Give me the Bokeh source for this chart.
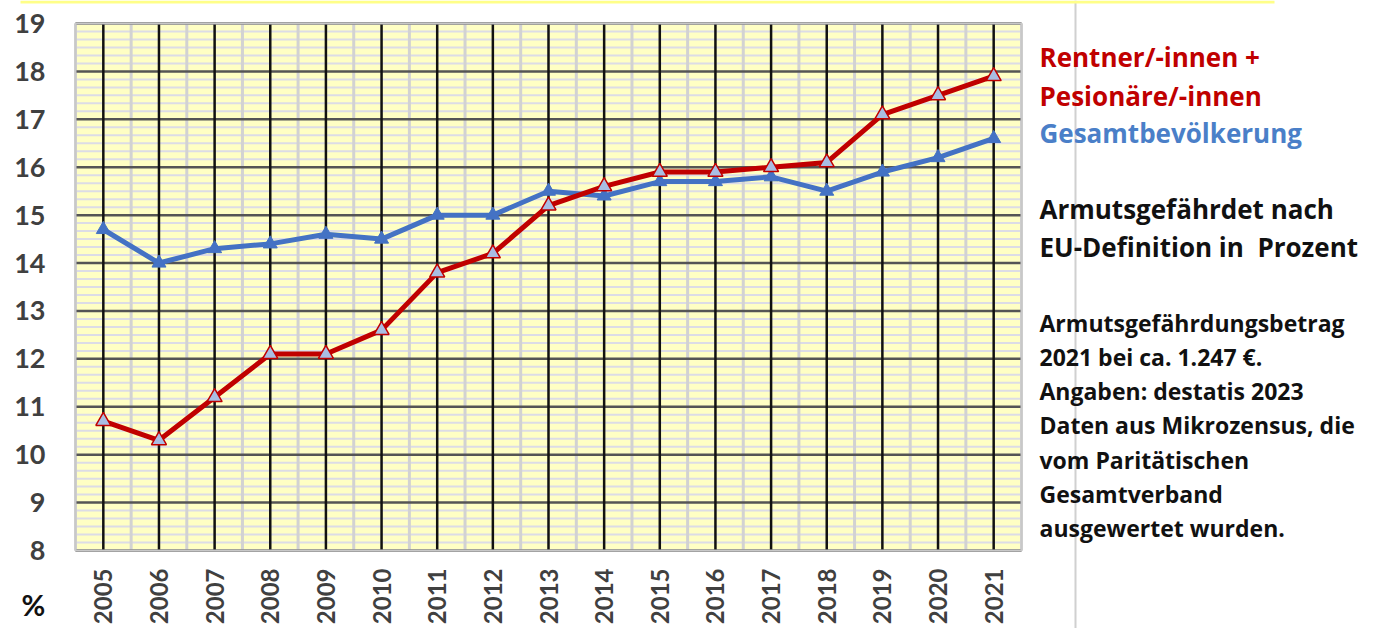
import math
from bokeh.plotting import figure
from bokeh.models import Range1d
from bokeh.core.properties import value
from bokeh.embed import file_html
from bokeh.resources import INLINE

years = ["2005", "2006", "2007", "2008", "2009", "2010", "2011", "2012", "2013",
         "2014", "2015", "2016", "2017", "2018", "2019", "2020", "2021"]
rentner = [10.7, 10.3, 11.2, 12.1, 12.1, 12.6, 13.8, 14.2, 15.2,
           15.6, 15.9, 15.9, 16.0, 16.1, 17.1, 17.5, 17.9]
gesamt = [14.7, 14.0, 14.3, 14.4, 14.6, 14.5, 15.0, 15.0, 15.5,
          15.4, 15.7, 15.7, 15.8, 15.5, 15.9, 16.2, 16.6]
y_ticks = list(range(8, 20))
legend_texts = ["Rentner/-innen +", "Pesionäre/-innen", "Gesamtbevölkerung"]
title_texts = ["Armutsgefährdet nach", "EU-Definition in\u00a0 Prozent"]
note_texts = ["Armutsgefährdungsbetrag", "2021 bei ca. 1.247 €.", "Angaben: destatis 2023",
              "Daten aus Mikrozensus, die", "vom Paritätischen", "Gesamtverband",
              "ausgewertet wurden."]

TICK_FONT = value("Lato")
TEXT_FONT = value("Open Sans")
W, H = 1360, 628
n = len(years)
xs = [i + 0.5 for i in range(n)]
YMIN, YMAX = y_ticks[0], y_ticks[-1]

# plot area in canvas pixels
L, R, T, B = 75, 1021, 23, 550
sx = (R - L) / n
sy = (B - T) / (YMAX - YMIN)

def X(px):
    return (px - L) / sx

def Y(py):
    return YMIN + (B - py) / sy

p = figure(width=W, height=H, output_backend="svg", toolbar_location=None,
           x_range=Range1d(X(0), X(W)), y_range=Range1d(Y(H), Y(0)),
           x_axis_location=None, y_axis_location=None,
           min_border=0, min_border_left=0, min_border_right=0,
           min_border_top=0, min_border_bottom=0)
p.grid.visible = False
p.outline_line_color = None
p.background_fill_color = "#ffffff"
p.border_fill_color = "#ffffff"

# plot area
p.quad(left=0, right=n, bottom=YMIN, top=YMAX, fill_color="#ffffc4", line_color=None)
# minor horizontal lines
minor_y = [YMIN + k / 6 for k in range(1, (YMAX - YMIN) * 6) if k % 6]
p.segment(x0=[0] * len(minor_y), x1=[n] * len(minor_y), y0=minor_y, y1=minor_y,
          line_color="#dcdce6", line_width=2)
# category boundaries
bx = list(range(n + 1))
p.segment(x0=bx, x1=bx, y0=[YMIN] * len(bx), y1=[YMAX] * len(bx),
          line_color="#d2d2d2", line_width=3)
# major horizontal lines
p.segment(x0=[0] * len(y_ticks), x1=[n] * len(y_ticks), y0=y_ticks, y1=y_ticks,
          line_color="#555555", line_width=2.5)
# category center lines
p.segment(x0=xs, x1=xs, y0=[YMIN] * n, y1=[YMAX] * n, line_color="#111111", line_width=2.5)
# outline
p.quad(left=0, right=n, bottom=YMIN, top=YMAX, fill_color=None, line_color="#c8c8c8", line_width=2)

# series
p.line(xs, gesamt, line_color="#4472c4", line_width=5)
p.scatter(xs, gesamt, marker="triangle", size=14, fill_color="#4472c4", line_color="#4472c4")
p.line(xs, rentner, line_color="#c00000", line_width=5)
p.scatter(xs, rentner, marker="triangle", size=15, fill_color="#a9bde3",
          line_color="#c00000", line_width=1.5)

# tick labels
p.text(x=[X(45)] * len(y_ticks), y=y_ticks, text=[str(t) for t in y_ticks],
       text_font=TICK_FONT, text_font_style="bold", text_font_size="27px",
       text_color="#404040", text_align="right", text_baseline="middle")
p.text(x=xs, y=[Y(568)] * n, text=years, angle=math.pi / 2,
       text_font=TICK_FONT, text_font_style="bold", text_font_size="24px",
       text_color="#404040", text_align="right", text_baseline="middle")
p.text(x=[X(21)], y=[Y(604)], text=["%"], text_font=TICK_FONT, text_font_style="bold",
       text_font_size="29px", text_color="#111111", text_align="left", text_baseline="middle")

# separator and top yellow rule
p.segment(x0=[X(1075)], x1=[X(1075)], y0=[Y(0)], y1=[Y(H)], line_color="#d0d0d0", line_width=2)
p.segment(x0=[X(20)], x1=[X(1274)], y0=[Y(1.5)], y1=[Y(1.5)], line_color="#ffff88", line_width=3)

# right-side texts
TX = X(1039)
p.text(x=[TX] * 3, y=[Y(56), Y(95), Y(132)], text=legend_texts,
       text_color=["#c00000", "#c00000", "#4a7fc8"], text_font=TEXT_FONT, text_font_style="bold",
       text_font_size="26px", text_align="left", text_baseline="middle")
p.text(x=[TX] * 2, y=[Y(208), Y(246)], text=title_texts, text_color="#111111",
       text_font=TEXT_FONT, text_font_style="bold", text_font_size="26px",
       text_align="left", text_baseline="middle")
p.text(x=[TX] * len(note_texts), y=[Y(322 + i * 34.3) for i in range(len(note_texts))],
       text=note_texts, text_color="#111111", text_font=TEXT_FONT, text_font_style="bold",
       text_font_size="23px", text_align="left", text_baseline="middle")

open("out.html", "w").write(file_html(p, INLINE))
